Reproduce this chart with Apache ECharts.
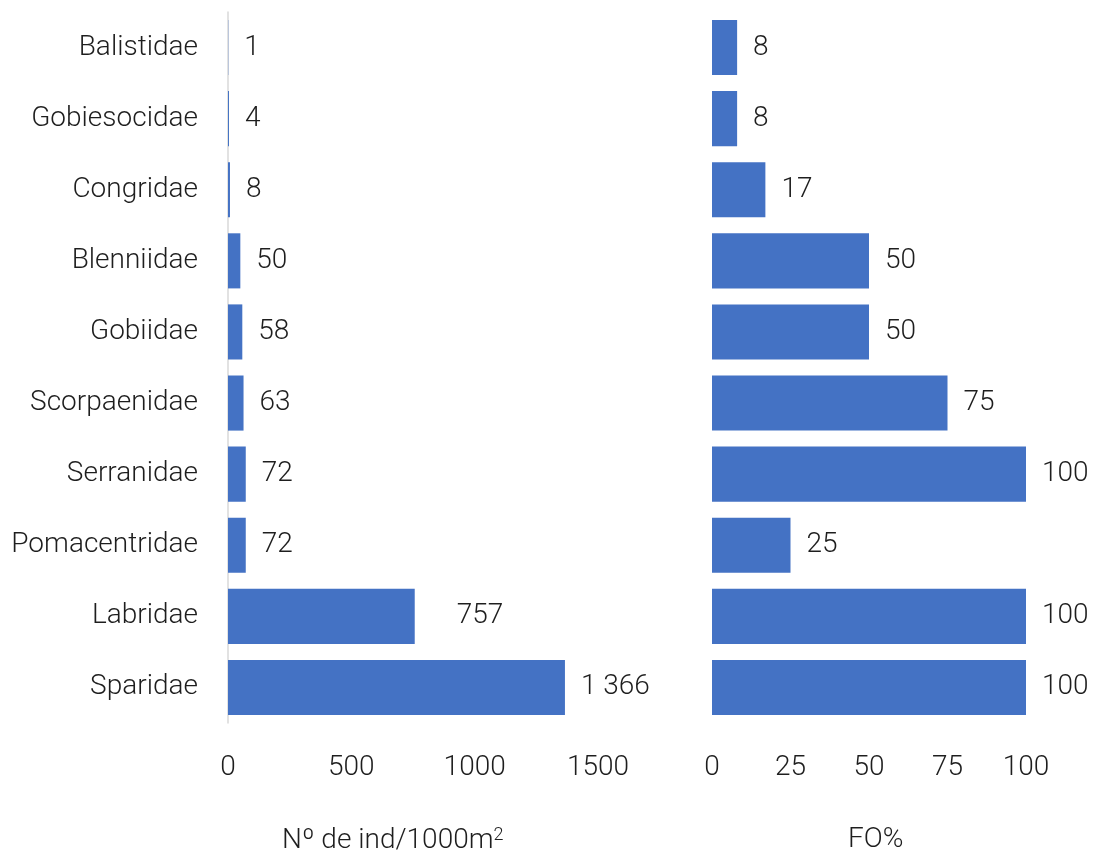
<!DOCTYPE html>
<html>
<head>
<meta charset="utf-8">
<script src="https://cdn.jsdelivr.net/npm/echarts@6/dist/echarts.min.js"></script>
<style>html,body{margin:0;padding:0;background:#fff}#c{width:1096px;height:853px}</style>
</head>
<body>
<div id="c"></div>
<script>
const categories = ['Balistidae','Gobiesocidae','Congridae','Blenniidae','Gobiidae','Scorpaenidae','Serranidae','Pomacentridae','Labridae','Sparidae'];
const density = [1,4,8,50,58,63,72,72,757,1366];
const foPercent = [8,8,17,50,50,75,100,25,100,100];
const densityTicks = [0,500,1000,1500];
const foTicks = [0,25,50,75,100];
const densityTitle = 'Nº de ind/1000m{sup|2}';
const foTitle = 'FO%';

const FONT = 'Roboto';
const TXT = '#1e1e1e';
const BLUE = '#4472C4';
const fmt = v => String(v).replace(/\B(?=(\d{3})+(?!\d))/g, ' ');
const baseText = {fontFamily: FONT, fontWeight: 300, fontSize: 28, color: TXT};

const chart = echarts.init(document.getElementById('c'), null, {renderer: 'canvas'});
chart.setOption({
  animation: false,
  backgroundColor: '#fff',
  grid: [
    {left: 228, top: 12, width: 370, height: 711},
    {left: 712, top: 12, width: 314, height: 711}
  ],
  xAxis: [
    {gridIndex: 0, type: 'value', min: densityTicks[0], max: densityTicks[densityTicks.length-1], interval: densityTicks[1] - densityTicks[0],
     axisLine: {show: false}, axisTick: {show: false}, splitLine: {show: false},
     axisLabel: Object.assign({margin: 31, formatter: v => String(v)}, baseText)},
    {gridIndex: 1, type: 'value', min: foTicks[0], max: foTicks[foTicks.length-1], interval: foTicks[1] - foTicks[0],
     axisLine: {show: false}, axisTick: {show: false}, splitLine: {show: false},
     axisLabel: Object.assign({margin: 31, formatter: v => String(v)}, baseText)}
  ],
  yAxis: [
    {gridIndex: 0, type: 'category', data: categories, inverse: true,
     axisLine: {show: true, lineStyle: {color: '#d9d9d9', width: 1.5}}, axisTick: {show: false},
     axisLabel: Object.assign({margin: 30, padding: [4, 0, 0, 0]}, baseText)},
    {gridIndex: 1, type: 'category', data: categories, inverse: true,
     axisLine: {show: false}, axisTick: {show: false}, axisLabel: {show: false}}
  ],
  series: [
    {type: 'bar', xAxisIndex: 0, yAxisIndex: 0, barCategoryGap: '22.5%',
     itemStyle: {color: BLUE},
     data: density.map((v, i) => ({value: v, label: categories[i] === 'Labridae' ? {distance: 42} : undefined})),
     label: Object.assign({show: true, position: 'right', distance: 16, padding: [4, 0, 0, 0], formatter: p => fmt(p.value)}, baseText)},
    {type: 'bar', xAxisIndex: 1, yAxisIndex: 1, barCategoryGap: '22.5%',
     itemStyle: {color: BLUE},
     data: foPercent,
     label: Object.assign({show: true, position: 'right', distance: 16, padding: [4, 0, 0, 0], formatter: p => fmt(p.value)}, baseText)}
  ],
  graphic: [
    {type: 'text', left: 282, top: 826, style: {text: densityTitle, fill: TXT, fontFamily: FONT, fontWeight: 300, fontSize: 28,
      rich: {sup: {fontFamily: FONT, fontWeight: 300, fontSize: 18, fill: TXT, padding: [0, 0, 12, 0]}}}},
    {type: 'text', left: 848, top: 826, style: {text: foTitle, fill: TXT, fontFamily: FONT, fontWeight: 300, fontSize: 28}}
  ]
});
</script>
</body>
</html>
